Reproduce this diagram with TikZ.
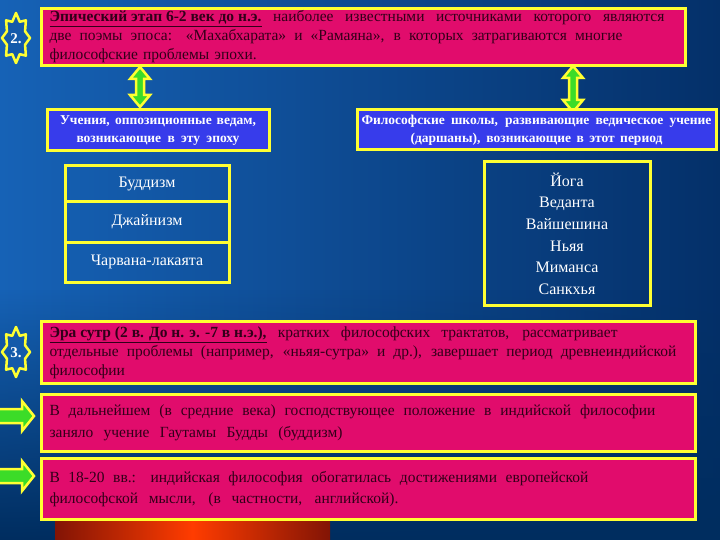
\documentclass[tikz,border=0pt]{standalone}
\usepackage{fontspec}
\setmainfont{Liberation Serif}
\usetikzlibrary{fadings}
\definecolor{pinkf}{RGB}{225,12,108}
\definecolor{yel}{RGB}{255,255,50}
\definecolor{bluef}{RGB}{55,60,235}
\definecolor{bgl}{RGB}{22,98,182}
\definecolor{bgr}{RGB}{4,48,105}
\definecolor{bgd}{RGB}{0,45,95}
\definecolor{txtd}{RGB}{50,0,25}
\definecolor{grn}{RGB}{60,220,40}
\definecolor{badgeb}{RGB}{20,90,170}
\definecolor{ored}{RGB}{255,60,0}
\definecolor{dred}{RGB}{130,20,5}
\newcommand\sline[2]{\makebox[#1][s]{\spaceskip=0pt\xspaceskip=0pt #2}}
\newcommand\octstar[2]{%
  \draw[badgestar] ({#1+14},{#2})
  \foreach \ang/\rad in {22.5/.7,45/1,67.5/.7,90/1,112.5/.7,135/1,157.5/.7,180/1,202.5/.7,225/1,247.5/.7,270/1,292.5/.7,315/1,337.5/.7}{
    -- ({#1+14*\rad*cos(\ang)},{#2+25*\rad*sin(\ang)})} -- cycle;}
\newcommand\vdblarrow[3]{% x, ytop, ybottom
  \draw[fatarrow] (#1,#2) -- ({#1+10},{#2+12}) -- ({#1+4},{#2+12}) -- ({#1+4},{#3-12})
   -- ({#1+10},{#3-12}) -- (#1,#3) -- ({#1-10},{#3-12}) -- ({#1-4},{#3-12})
   -- ({#1-4},{#2+12}) -- ({#1-10},{#2+12}) -- cycle;}
\newcommand\rblockarrow[1]{% y centre
  \draw[fatarrow] (-5,{#1-7}) -- (22,{#1-7}) -- (22,{#1-15}) -- (34,#1) -- (22,{#1+15})
   -- (22,{#1+7}) -- (-5,{#1+7}) -- cycle;}
\begin{document}
\begin{tikzpicture}[x=1pt,y=-1pt,
  pinkbox/.style={draw=yel, line width=3pt, fill=pinkf, text=txtd, anchor=north west,
    align=left, inner xsep=8pt, inner ysep=0pt, font=\fontsize{15.5}{19}\selectfont},
  bluebox/.style={draw=yel, line width=3pt, fill=bluef, text=white, align=center,
    inner sep=0pt, font=\bfseries\fontsize{13.5}{18}\selectfont},
  cell/.style={draw=yel, line width=3pt, text=white, inner sep=0pt,
    minimum width=164pt, font=\fontsize{16}{18}\selectfont},
  listbox/.style={draw=yel, line width=3pt, text=white, inner sep=0pt, align=center},
  badgestar/.style={draw=yel, fill=badgeb, line width=2.5pt, line join=round},
  badgetext/.style={text=white, font=\bfseries\fontsize{15}{15}\selectfont, inner sep=0pt},
  fatarrow/.style={draw=yel, fill=grn, line width=2.5pt, line join=miter}]
\useasboundingbox (0,0) rectangle (720,540);
\shade[left color=bgl, right color=bgr] (0,0) rectangle (720,540);
\fill[bgd, path fading=north] (0,290) rectangle (720,540);
\shade[left color=dred, right color=dred, middle color=ored] (55,521) rectangle (330,540);

% top box
\node[pinkbox, minimum width=644pt, minimum height=57pt, text width=628pt] (epic) at (40,7)
 {\sline{615pt}{\underline{\textbf{Эпический этап 6-2 век до н.э.}} наиболее известными источниками которого являются}\\
  \sline{573pt}{две поэмы эпоса: «Махабхарата» и «Рамаяна», в которых затрагиваются многие}\\
  философские проблемы эпохи.};
\octstar{16}{38}
\node[badgetext] (b2) at (16,39) {2.};

% double arrows
\vdblarrow{140}{67}{107}
\vdblarrow{573}{66}{112}

% blue boxes
\node[bluebox, minimum width=222pt, minimum height=41pt] (opp) at (158,130.5)
 {\sline{196pt}{Учения, оппозиционные ведам,}\\ \sline{163pt}{возникающие в эту эпоху}};
\node[bluebox, minimum width=359pt, minimum height=40pt] (darsh) at (536.5,130)
 {\sline{350pt}{Философские школы, развивающие ведическое учение}\\ \sline{252pt}{(даршаны), возникающие в этот период}};

% left list
\node[cell, minimum height=36pt] (budd) at (147,184) {Буддизм};
\node[cell, minimum height=40pt] (jain) at (147,222) {\raisebox{-4pt}{Джайнизм}};
\node[cell, minimum height=40pt] (charv) at (147,262) {\raisebox{-5pt}{Чарвана-лакаята}};

% right list
\node[listbox, minimum width=166pt, minimum height=143pt, font=\fontsize{16}{21.6}\selectfont] (schools) at (567,233.5)
 {Йога\\Веданта\\Вайшешина\\Ньяя\\Миманса\\Санкхья};

% box 3
\node[pinkbox, minimum width=654pt, minimum height=62pt, text width=638pt] (sutra) at (40,320)
 {\sline{568pt}{\underline{\textbf{Эра сутр (2 в. До н. э. -7 в н.э.),}} кратких философских трактатов, рассматривает}\\
  \sline{627pt}{отдельные проблемы (например, «ньяя-сутра» и др.), завершает период древнеиндийской}\\
  философии};
\octstar{16}{352}
\node[badgetext] (b3) at (16,353) {3.};

% box 4
\node[pinkbox, minimum width=654pt, minimum height=57pt, text width=638pt,
  font=\fontsize{15.5}{22}\selectfont] (middle) at (40,393)
 {\sline{606pt}{В дальнейшем (в средние века) господствующее положение в индийской философии}\\
  \sline{293pt}{заняло учение Гаутамы Будды (буддизм)}};
\rblockarrow{416}

% box 5
\node[pinkbox, minimum width=654pt, minimum height=61pt, text width=638pt,
  font=\fontsize{15.5}{21}\selectfont] (modern) at (40,457)
 {\sline{539pt}{В 18-20 вв.: индийская философия обогатилась достижениями европейской}\\
  \sline{349pt}{философской мысли, (в частности, английской).}};
\rblockarrow{476}
\end{tikzpicture}
\end{document}
